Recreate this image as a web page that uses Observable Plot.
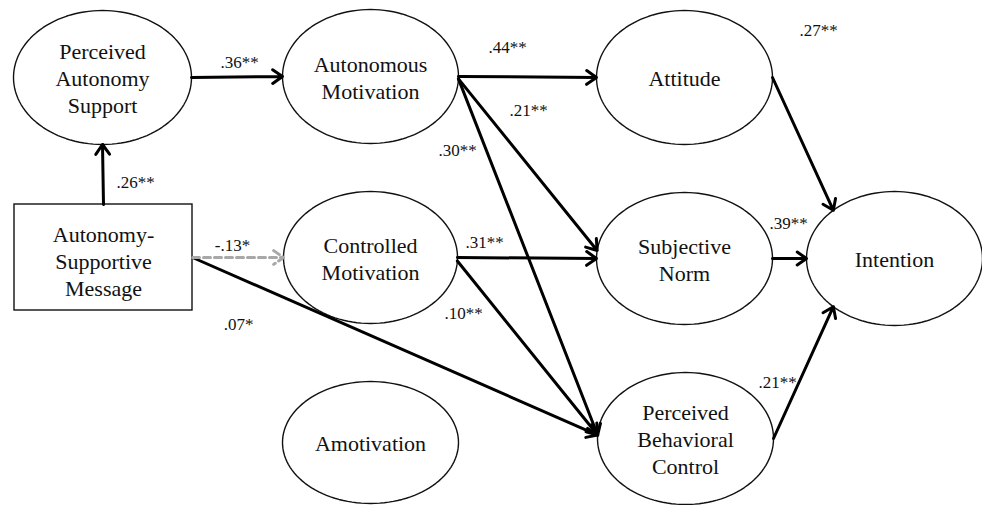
<!DOCTYPE html>
<html>
<head>
<meta charset="utf-8">
<script src="https://cdn.jsdelivr.net/npm/d3@7"></script>
<script src="https://cdn.jsdelivr.net/npm/@observablehq/plot@0.6"></script>
<style>
  html, body { margin: 0; padding: 0; background: #fff; }
  #chart svg { display: block; }
  #chart svg text, #chart svg tspan { font-family: "Liberation Serif", "Times New Roman", Times, serif !important; }
  #chart g[aria-label="node-labels"] text { text-shadow: 1px 2px 2px rgba(0,0,0,0.35); }
</style>
</head>
<body>
<div id="chart"></div>
<script>
// ---- Diagram data ----
const nodeIds    = ["PAS", "AM", "ATT", "CM", "SN", "INT", "PBC", "AMO"];
const nodeLabels = ["Perceived\nAutonomy\nSupport", "Autonomous\nMotivation", "Attitude",
                    "Controlled\nMotivation", "Subjective\nNorm", "Intention",
                    "Perceived\nBehavioral\nControl", "Amotivation"];
// layout (diagram units, origin top-left)
const nodeCx = [102, 370, 684, 370, 684, 894, 685, 370];
const nodeCy = [77, 76, 77, 257, 258, 258, 438, 442];
const nodeRx = [89, 88, 88, 87, 88, 88, 88, 88];
const nodeRy = [67, 67, 67, 66, 66, 67, 66, 61];

const boxLabel = "Autonomy-\nSupportive\nMessage";
const boxX = [14, 192];
const boxY = [204, 310];

// paths: source, source port angle, target, target port angle, coefficient
const edgeFrom   = ["PAS", "BOX_T", "AM", "AM", "AM", "BOX_R", "CM", "CM", "BOX_R", "ATT", "SN", "PBC"];
const edgeFromA  = [0, null, 0, -2, -2, null, 0, -3, null, 0, 0, 0];
const edgeTo     = ["AM", "PAS", "ATT", "SN", "PBC", "CM", "SN", "PBC", "PBC", "INT", "INT", "INT"];
const edgeToA    = [180, 270, 180, 173, 177, 180, 180, 177, 177, 134, 180, 226];
const edgeCoef   = [".36**", ".26**", ".44**", ".21**", ".30**", "-.13*", ".31**", ".10**", ".07*", ".27**", ".39**", ".21**"];
const edgeNonSig = [false, false, false, false, false, true, false, false, false, false, false, false];
// coefficient label positions
const coefX = [239, 135, 507, 528, 457, 232, 484, 463, 238, 818, 788, 777];
const coefY = [62, 182, 47, 110, 150, 245, 242, 313, 324, 30, 223, 382];

// ---- build tables ----
const nodes = nodeIds.map((id, i) => ({id, label: nodeLabels[i], cx: nodeCx[i], cy: nodeCy[i], rx: nodeRx[i], ry: nodeRy[i]}));
const nodeById = Object.fromEntries(nodes.map(n => [n.id, n]));
function port(id, ang) {
  if (id === "BOX_T") return [(boxX[0] + boxX[1]) / 2, boxY[0]];
  if (id === "BOX_R") return [boxX[1], (boxY[0] + boxY[1]) / 2];
  const n = nodeById[id];
  const a = ang * Math.PI / 180;
  return [n.cx + n.rx * Math.cos(a), n.cy - n.ry * Math.sin(a)];
}
const ellipsePts = [];
for (const n of nodes) {
  for (let k = 0; k < 120; k++) {
    const a = k / 120 * 2 * Math.PI;
    ellipsePts.push({id: n.id, x: n.cx + n.rx * Math.cos(a), y: n.cy + n.ry * Math.sin(a)});
  }
}
const edges = edgeFrom.map((f, i) => {
  const [x1, y1] = port(f, edgeFromA[i]);
  const [x2, y2] = port(edgeTo[i], edgeToA[i]);
  return {x1, y1, x2, y2, coef: edgeCoef[i], ns: edgeNonSig[i], lx: coefX[i], ly: coefY[i]};
});
const box = [{x1: boxX[0], x2: boxX[1], y1: boxY[0], y2: boxY[1], label: boxLabel,
              cx: (boxX[0] + boxX[1]) / 2, cy: (boxY[0] + boxY[1]) / 2}];

const font = "Liberation Serif, Times New Roman, serif";

const chart = Plot.plot({
  width: 982,
  height: 505,
  margin: 0,
  x: {domain: [0, 982], range: [0, 982], axis: null},
  y: {domain: [0, 505], range: [0, 505], axis: null},
  style: {background: "#fff"},
  marks: [
    Plot.line(ellipsePts, {x: "x", y: "y", z: "id", curve: "linear-closed", fill: "white", stroke: "#111", strokeWidth: 1.4}),
    Plot.rect(box, {x1: "x1", x2: "x2", y1: "y1", y2: "y2", fill: "white", stroke: "#111", strokeWidth: 1.4}),
    Plot.arrow(edges.filter(d => !d.ns), {x1: "x1", y1: "y1", x2: "x2", y2: "y2", stroke: "#000", strokeWidth: 3, headLength: 6, headAngle: 70}),
    Plot.arrow(edges.filter(d => d.ns), {x1: "x1", y1: "y1", x2: "x2", y2: "y2", stroke: "#a8a8a8", strokeWidth: 3, strokeDasharray: "7,4", headLength: 6, headAngle: 70}),
    Plot.text(nodes, {x: "cx", y: "cy", text: "label", fontSize: 22, lineHeight: 1.22, fill: "#111", fontFamily: font, ariaLabel: "node-labels"}),
    Plot.text(box, {x: "cx", y: "cy", text: "label", fontSize: 22, lineHeight: 1.22, fill: "#111", fontFamily: font, dy: 3}),
    Plot.text(edges, {x: "lx", y: "ly", text: "coef", fontSize: 17, fill: "#111", fontFamily: font})
  ]
});
document.getElementById("chart").append(chart);
</script>
</body>
</html>
